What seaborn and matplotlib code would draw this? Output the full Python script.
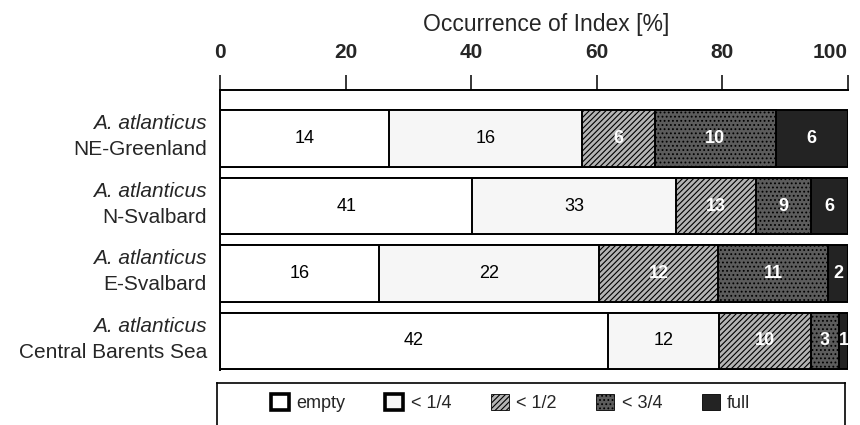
import numpy as np
import pandas as pd
import matplotlib.pyplot as plt
import seaborn as sns
from matplotlib.patches import Patch

# Data: number of stomachs per fullness index class and region
species = "A. atlanticus"
sites = ["NE-Greenland", "N-Svalbard", "E-Svalbard", "Central Barents Sea"]
stages = ["empty", "< 1/4", "< 1/2", "< 3/4", "full"]
n_empty = [14, 41, 16, 42]
n_quarter = [16, 33, 22, 12]
n_half = [6, 13, 12, 10]
n_threequarter = [10, 9, 11, 3]
n_full = [6, 6, 2, 1]
xticks = [0, 20, 40, 60, 80, 100]

# Styles
colors = {"empty": "#ffffff", "< 1/4": "#f6f6f6", "< 1/2": "#b4b4b4",
          "< 3/4": "#5c5c5c", "full": "#232323"}
hatches = {"empty": "", "< 1/4": "", "< 1/2": "//////", "< 3/4": "....", "full": ""}
txt_colors = {"empty": "black", "< 1/4": "black", "< 1/2": "white",
              "< 3/4": "white", "full": "white"}
txt_weights = {"empty": "normal", "< 1/4": "normal", "< 1/2": "bold",
               "< 3/4": "bold", "full": "bold"}

counts = pd.DataFrame({"empty": n_empty, "< 1/4": n_quarter, "< 1/2": n_half,
                       "< 3/4": n_threequarter, "full": n_full}, index=sites)
counts.index.name = "site"
pct = counts.div(counts.sum(axis=1), axis=0) * 100
cum = pct.cumsum(axis=1)
left = cum - pct

long = cum.reset_index().melt(id_vars="site", var_name="stage", value_name="cum")

sns.set_theme(style="white")
plt.rcParams["font.family"] = ["Liberation Sans", "DejaVu Sans"]
plt.rcParams["hatch.linewidth"] = 0.8

fig = plt.figure(figsize=(8.6, 4.25), dpi=100)
ax = fig.add_axes([220 / 860, 1 - 370 / 425, 628 / 860, 280 / 425])

# stacked bars: draw cumulative totals from the largest to the smallest
for st in stages[::-1]:
    sns.barplot(data=long[long["stage"] == st], x="cum", y="site", order=sites,
                orient="h", color=colors[st], saturation=1, errorbar=None,
                width=0.84, edgecolor="black", linewidth=1.4,
                hatch=hatches[st], ax=ax)

# counts inside segments
for i, s in enumerate(sites):
    for st in stages:
        ax.text(left.loc[s, st] + pct.loc[s, st] / 2, i, str(counts.loc[s, st]),
                ha="center", va="center", fontsize=13,
                color=txt_colors[st], fontweight=txt_weights[st])

# y labels (species in italics, region below)
ax.set_yticks(range(len(sites)))
ax.set_yticklabels([])
ax.set_ylabel("")
for i, s in enumerate(sites):
    ax.annotate(species, xy=(0, i), xycoords=("axes fraction", "data"),
                xytext=(-9.5, 10.5), textcoords="offset points",
                ha="right", va="center", fontsize=15, style="italic")
    ax.annotate(s, xy=(0, i), xycoords=("axes fraction", "data"),
                xytext=(-9.5, -8), textcoords="offset points",
                ha="right", va="center", fontsize=15)

# x axis on top
ax.set_xlim(0, 100)
ax.set_ylim(3.43, -0.72)
ax.xaxis.tick_top()
ax.xaxis.set_label_position("top")
ax.set_xticks(xticks)
ax.set_xticklabels([str(t) for t in xticks], fontsize=15, fontweight="bold")
ax.get_xticklabels()[-1].set_horizontalalignment("right")
ax.tick_params(axis="x", direction="out", length=11, width=1.1, pad=9,
               color="black", top=True, bottom=False)
ax.tick_params(axis="y", length=0)
ax.set_xlabel("Occurrence of Index [%]", fontsize=16.5)
ax.xaxis.set_label_coords(0.52, 1.21)

for side in ["right", "bottom"]:
    ax.spines[side].set_visible(False)
for side in ["top", "left"]:
    ax.spines[side].set_color("black")
    ax.spines[side].set_linewidth(1.4)

# legend in a framed box below
lax = fig.add_axes([217 / 860, -0.02, 628 / 860, 1 - 383 / 425 + 0.02])
lax.set_xticks([])
lax.set_yticks([])
for sp in lax.spines.values():
    sp.set_color("black")
    sp.set_linewidth(1.2)
handles = []
for st in stages:
    thick = st in ("empty", "< 1/4")
    handles.append(Patch(facecolor=colors[st], hatch=hatches[st],
                         edgecolor="black", linewidth=2.6 if thick else 0.6,
                         label=st))
lax.legend(handles=handles, loc="center", bbox_to_anchor=(0.468, 0.6),
           ncol=5, frameon=False, fontsize=13, handlelength=1.0,
           handleheight=1.0, handletextpad=0.4, columnspacing=2.2)

fig.savefig("out.png", dpi=100)
